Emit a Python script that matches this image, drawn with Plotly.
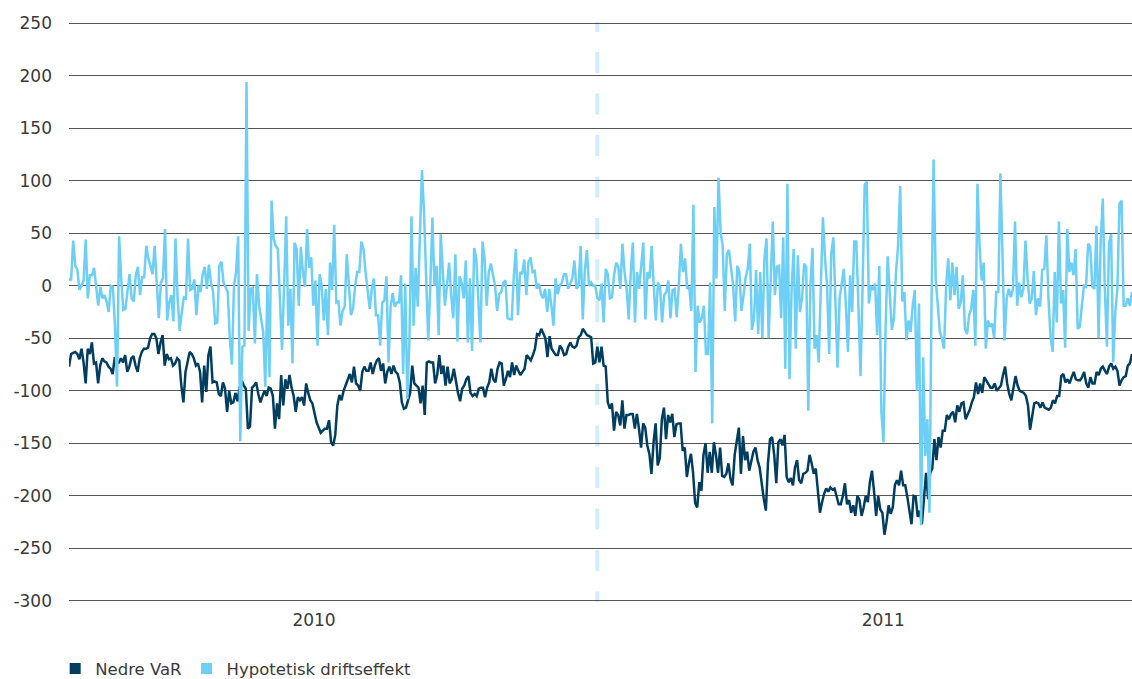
import numpy as np
import plotly.graph_objects as go

# ---- data ----
var_a = [-77,-65,-64,-63,-65,-70,-60,-73,-93,-60,-65,-54,-74,-73,-93,-76,-69,-72,-73,-77,-79,-84,-68,-73,-73,-69,-73,-66,-82,-77,-69,-67,-76,-82,-69,-63,-60,-60,-59,-50,-46,-46,-50,-65,-54,-47,-76,-65,-70,-69,-76,-74,-69,-71,-95,-111,-82,-71,-63,-65,-69,-76,-74,-82,-111,-76,-101,-66,-58,-92,-91,-92,-103,-105,-92,-98,-120,-100,-112,-111,-102,-110,-97,-90,-95,-98,-136,-134,-97,-95,-92,-103,-111,-105,-100,-105,-97,-98,-105,-136,-112,-127]
var_b = [-85,-114,-89,-98,-85,-97,-105,-120,-106,-109,-106,-114,-93,-102,-109,-112,-120,-130,-135,-140,-138,-136,-136,-128,-149,-152,-142,-114,-104,-109,-100,-95,-89,-84,-92,-77,-93,-95,-100,-82,-77,-81,-81,-73,-84,-76,-71,-69,-81,-74,-93,-82,-77,-84,-76,-82,-84,-92,-111,-117,-116,-108,-102,-76,-93,-95,-97,-112,-95,-123,-73,-72,-73,-73,-93,-85,-66,-84,-76,-95,-77,-93,-89,-79,-93,-102,-110,-98,-95,-89,-86,-102,-105,-103,-105,-98,-97,-97,-106,-97,-92,-79,-89]
var_c = [-92,-79,-73,-74,-95,-89,-81,-87,-73,-85,-76,-81,-85,-82,-79,-66,-68,-71,-66,-60,-46,-47,-41,-46,-50,-68,-48,-60,-63,-66,-66,-57,-60,-66,-65,-58,-54,-58,-59,-57,-49,-47,-41,-44,-47,-48,-49,-74,-73,-58,-73,-58,-76,-77,-111,-117,-112,-138,-120,-123,-133,-109,-136,-123,-123,-122,-122,-136,-122,-136,-154,-131,-135,-152,-160,-179,-149,-131,-171,-164,-127,-116,-146,-123,-130,-122,-144,-132,-131,-131,-157,-154,-182,-169,-160,-178,-207,-211,-187,-195,-161,-150,-178]
var_d = [-158,-178,-149,-161,-178,-154,-181,-182,-179,-169,-184,-190,-161,-147,-135,-179,-143,-166,-158,-176,-166,-158,-154,-166,-173,-190,-203,-214,-169,-146,-144,-161,-188,-149,-146,-152,-142,-182,-187,-183,-190,-173,-166,-185,-188,-179,-178,-176,-161,-169,-179,-174,-193,-216,-206,-198,-193,-196,-192,-194,-193,-200,-208,-208,-200,-188,-208,-204,-216,-209,-219,-200,-204,-219,-211,-200,-206,-187,-176,-196,-219,-200,-213,-216,-237,-225,-209,-217,-211,-190,-185,-190,-176,-190,-190,-201,-216,-227,-200,-201,-220,-214,-227,-203]
var_e = [-178,-203,-178,-174,-146,-166,-144,-154,-138,-138,-123,-127,-122,-120,-130,-114,-120,-112,-111,-127,-123,-118,-111,-106,-92,-103,-93,-102,-87,-90,-93,-97,-97,-93,-100,-98,-95,-85,-77,-93,-103,-109,-95,-86,-95,-100,-101,-102,-105,-114,-137,-123,-112,-111,-112,-116,-111,-116,-117,-118,-116,-109,-112,-105,-105,-86,-84,-92,-89,-93,-87,-82,-89,-90,-90,-87,-82,-93,-97,-87,-93,-93,-82,-85,-79,-77,-81,-84,-77,-74,-79,-77,-81,-95,-90,-87,-86,-76,-74,-65]

hyp_a = [7,5,43,19,15,-4,0,5,44,-12,10,10,17,0,-19,-1,-12,-9,-15,-25,0,-1,-38,-96,47,7,-23,-22,-6,11,-12,-15,10,18,-9,8,8,38,26,19,11,38,0,-31,3,7,54,-33,-16,-9,-34,45,-12,-43,-25,-11,-12,45,-4,-3,6,-28,0,-6,11,18,-3,20,3,-6,-36,-35,19,23,3,-2,-6,-50,-75,0,13,47,-148,-58,-57,194,-43,-3,-2,-55,11,-19,-31,-44,-96,0,-87,81,45,38]
hyp_b = [35,-19,-61,0,66,-38,-3,-74,41,35,-19,37,13,-1,54,17,27,-19,5,-57,11,0,-33,-3,-47,22,-4,58,-16,-15,-38,-24,-20,30,0,-28,-22,0,13,13,42,35,13,-6,-22,-3,7,-28,-28,-57,-16,-14,9,-73,-20,-7,-20,-16,-16,10,-84,2,-108,-52,66,-38,17,-20,38,110,70,0,-52,0,65,0,19,-47,49,13,-19,0,22,-9,-31,30,-53,9,3,-12,24,-54,7,-62,36,26,-12,-54,42,26,-19,13,21]
hyp_c = [10,0,-24,-8,-6,3,5,-31,-32,-32,10,35,-28,13,11,25,-9,22,27,13,14,-3,2,-8,-12,-3,-25,-3,-19,-38,7,-8,0,3,11,11,-3,2,7,24,-3,0,38,-32,15,34,0,3,0,0,-12,-14,2,-35,16,11,-12,-11,10,22,18,-3,40,13,-3,-32,13,41,-35,13,-3,19,41,-32,13,7,38,0,-33,3,-1,-35,-9,-6,5,-31,-4,-3,-30,0,40,13,26,-3,-1,-24,77,-82,-19,-35,-31,-19,-65]
hyp_d = [-65,3,-131,75,7,103,51,38,-24,30,34,19,0,-34,19,13,-24,-9,8,16,40,-42,-31,15,-46,13,-50,26,45,-50,8,61,-9,18,19,-31,46,-79,97,-89,-3,35,-60,29,-25,-12,21,18,-119,0,36,-60,-47,-73,0,65,26,0,-65,30,46,-12,-78,-12,0,16,-19,-63,10,-25,42,42,-19,-86,0,96,99,-17,0,-4,2,-47,19,-120,-149,-41,28,-12,-42,-31,13,38,95,-15,-6,-52,-33,-44,-19,-4,-100,-17,-228,-68]
hyp_e = [-162,-127,-216,-19,120,7,-19,-44,-50,-60,0,26,-14,22,-9,18,-22,-16,10,-41,-46,-28,-22,-4,-57,97,38,5,22,-60,-33,-39,-36,-50,-6,-6,107,13,-52,-12,-3,-11,-3,61,-19,3,-11,-3,43,7,-17,-12,14,-28,-12,-20,15,16,48,-12,-49,-63,13,-35,61,-17,-4,-59,54,13,22,10,35,-41,-39,-19,0,-1,40,37,-1,-3,57,-50,42,83,-3,-58,40,49,-73,-25,-3,78,81,-19,-19,-12,-19,-6]

nedre_var = var_a + var_b + var_c + var_d + var_e
hypotetisk = hyp_a + hyp_b + hyp_c + hyp_d + hyp_e

year_labels = ["2010", "2011"]
year_label_pos = [0.2305, 0.766]   # position on the time axis (fraction of period)
split_pos = 0.497                  # dashed marker between the two periods
y_ticks = list(range(-300, 251, 50))
y_tick_text = [str(v) for v in y_ticks]

# time axis: observations evenly spread over the period
x_var = np.linspace(0, 1, len(nedre_var))
x_hyp = np.linspace(0, 1, len(hypotetisk))

DARK = "#003d5f"
LIGHT = "#6dcff6"
FONT = "DejaVu Sans"
TXT = "#3a3a3a"

# dash pattern of the divider, drawn from the top down
dash_pattern = ",".join(["10px", "20px"] + ["21px", "20.5px"] * 14)

fig = go.Figure()
fig.add_trace(go.Scatter(x=x_var, y=nedre_var, mode="lines", name="Nedre VaR",
                         line=dict(color=DARK, width=2.5), showlegend=False))
fig.add_trace(go.Scatter(x=x_hyp, y=hypotetisk, mode="lines", name="Hypotetisk driftseffekt",
                         line=dict(color=LIGHT, width=2.5), showlegend=False))
# legend entries with square swatches
fig.add_trace(go.Scatter(x=[None], y=[None], mode="markers", name="Nedre VaR",
                         marker=dict(symbol="square", size=11, color=DARK)))
fig.add_trace(go.Scatter(x=[None], y=[None], mode="markers", name="Hypotetisk driftseffekt",
                         marker=dict(symbol="square", size=11, color=LIGHT)))

fig.add_shape(type="line", xref="x", yref="paper", x0=split_pos, x1=split_pos, y0=1, y1=0,
              line=dict(color="#d3edfa", width=4, dash=dash_pattern), layer="below")

fig.update_layout(
    width=1132, height=679, autosize=False,
    margin=dict(l=69, r=0, t=22, b=77, autoexpand=False),
    paper_bgcolor="white", plot_bgcolor="white",
    font=dict(family=FONT, size=17, color=TXT),
    showlegend=True,
    legend=dict(orientation="h", x=-0.013, xanchor="left", y=-0.085, yanchor="top",
                font=dict(family=FONT, size=16.5, color=TXT), itemwidth=30,
                tracegroupgap=0, bgcolor="rgba(0,0,0,0)"),
    xaxis=dict(range=[0, 1], tickmode="array", tickvals=year_label_pos, ticktext=year_labels,
               showgrid=False, zeroline=False, showline=False, ticks="",
               tickfont=dict(family=FONT, size=17, color=TXT), ticklabelstandoff=6),
    yaxis=dict(range=[-301, 251], tickmode="array", tickvals=y_ticks, ticktext=y_tick_text,
               showgrid=True, gridcolor="#555555", gridwidth=1, zeroline=False,
               showline=False, ticks="", ticklabelstandoff=16,
               tickfont=dict(family=FONT, size=17, color=TXT)),
)

fig.write_html("out.html", config={"displayModeBar": False},
               post_script="document.body.style.margin='0';document.body.style.overflow='hidden';")
